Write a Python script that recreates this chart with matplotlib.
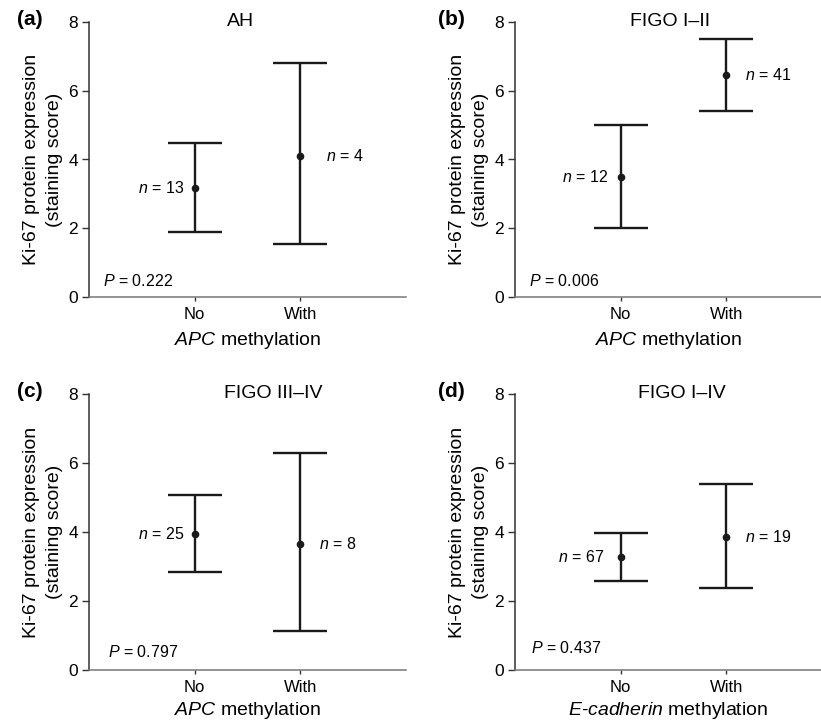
import matplotlib
matplotlib.use('Agg')
import matplotlib.pyplot as plt

plt.rcParams['font.family'] = ['Liberation Sans', 'DejaVu Sans']
plt.rcParams['mathtext.fontset'] = 'custom'
plt.rcParams['mathtext.rm'] = 'Liberation Sans'
plt.rcParams['mathtext.it'] = 'Liberation Sans:italic'

# data
groups = ['No', 'With']
titles = ['AH', 'FIGO I\u2013II', 'FIGO III\u2013IV', 'FIGO I\u2013IV']
panel_labels = ['(a)', '(b)', '(c)', '(d)']
genes = ['APC', 'APC', 'APC', 'E-cadherin']
means = [[3.17, 4.1], [3.5, 6.45], [3.95, 3.65], [3.28, 3.85]]
upper = [[4.47, 6.8], [5.0, 7.5], [5.08, 6.3], [3.98, 5.4]]
lower = [[1.88, 1.55], [2.02, 5.4], [2.83, 1.12], [2.58, 2.38]]
counts = [[13, 4], [12, 41], [25, 8], [67, 19]]
pvalues = ['0.222', '0.006', '0.797', '0.437']

W, H = 821, 722
fig = plt.figure(figsize=(W / 100, H / 100), dpi=100)

# layout in pixels: left, top, bottom, right
boxes = [(89, 22, 297, 406), (515, 22, 297, 821),
         (89, 394, 670, 406), (515, 394, 670, 821)]
title_x = [1.43, 1.47, 1.74, 1.58]
p_pos = [(0.13, 0.47), (0.13, 0.47), (0.18, 0.52), (0.15, 0.64)]
n_off = [(0.10, 0.24), (0.12, 0.18), (0.10, 0.18), (0.16, 0.18)]
lab_x = [17, 438, 17, 438]
xpad = [6, 6, 4, 4]

for i in range(4):
    l, t, b, r = boxes[i]
    ax = fig.add_axes([l / W, (H - b) / H, (r - l) / W, (b - t) / H])
    px_unit = (406 - 89) / 3.0
    ax.set_xlim(0, (r - l) / px_unit)
    ax.set_ylim(0, 8)
    xs = [1, 2]
    m = means[i]
    yerr = [[m[k] - lower[i][k] for k in range(2)],
            [upper[i][k] - m[k] for k in range(2)]]
    ax.errorbar(xs, m, yerr=yerr, fmt='o', color='#1a1a1a', ms=4.5,
                elinewidth=1.7, capsize=19.5, capthick=1.7)
    ax.set_xticks(xs)
    ax.set_xticklabels(groups, fontsize=12)
    ax.set_yticks([0, 2, 4, 6, 8])
    ax.tick_params(axis='y', labelsize=12.5, length=5, width=1, color='#333333', pad=3)
    ax.tick_params(axis='x', length=3, width=1, color='#333333', pad=4)
    for s in ['top', 'right']:
        ax.spines[s].set_visible(False)
    ax.spines['left'].set_color('#333333')
    ax.spines['bottom'].set_color('#777777')
    ax.spines['left'].set_linewidth(1.1)
    ax.spines['bottom'].set_linewidth(1.1)
    ax.set_ylabel('Ki-67 protein expression\n(staining score)', fontsize=14,
                  labelpad=4, linespacing=1.45)
    if genes[i] == 'E-cadherin':
        xl = r'$\it{E}$-$\it{cadherin}$ methylation'
    else:
        xl = r'$\it{' + genes[i] + '}$ methylation'
    ax.set_xlabel(xl, fontsize=14, labelpad=xpad[i])
    ax.text(title_x[i], 8, titles[i], fontsize=14, ha='center', va='center',
            clip_on=False)
    ax.text(p_pos[i][0], p_pos[i][1], r'$\it{P}$ = ' + pvalues[i],
            fontsize=11.5, ha='left', va='center')
    ax.text(1 - n_off[i][0], m[0], r'$\it{n}$ = ' + str(counts[i][0]),
            fontsize=11.5, ha='right', va='center')
    ax.text(2 + n_off[i][1], m[1], r'$\it{n}$ = ' + str(counts[i][1]),
            fontsize=11.5, ha='left', va='center')
    fig.text(lab_x[i] / W, (H - t) / H + 0.003, panel_labels[i], fontsize=15,
             fontweight='bold', ha='left', va='center')

fig.savefig('out.png', dpi=100)
